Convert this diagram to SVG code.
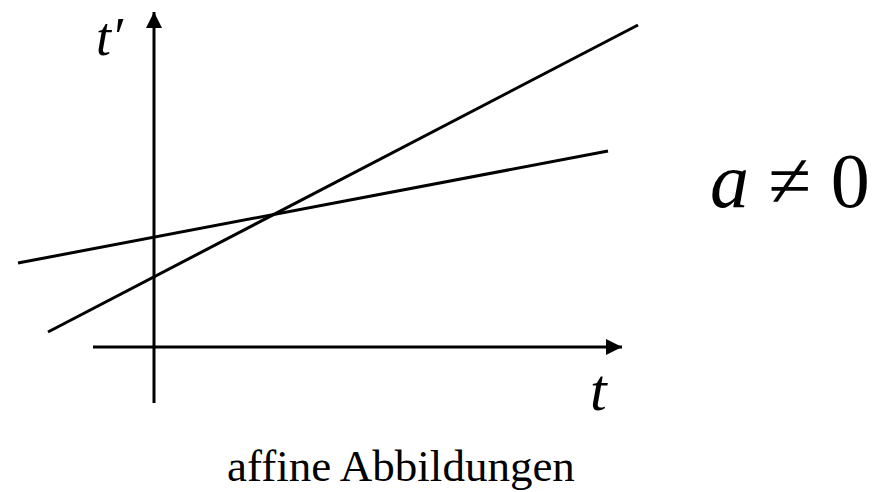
<svg xmlns="http://www.w3.org/2000/svg" width="878" height="492" viewBox="0 0 878 492">
<style>
.ln{stroke:#000;stroke-width:3;fill:none}
.tx{font-family:"Liberation Serif","Times New Roman",serif;fill:#000}
.it{font-style:italic}
</style>
<defs>
<marker id="ah" markerUnits="userSpaceOnUse" markerWidth="16" markerHeight="16" refX="16" refY="8" orient="auto">
<path d="M0,0 L16,8 L0,16 Z" fill="#000"/>
</marker>
</defs>
<rect width="878" height="492" fill="#fff"/>
<g id="connectors">
<line id="axis-t" class="ln" x1="93" y1="347" x2="622" y2="347" marker-end="url(#ah)"/>
<line id="axis-tprime" class="ln" x1="154" y1="403" x2="154" y2="12" marker-end="url(#ah)"/>
<line id="line-flat" class="ln" x1="18" y1="263" x2="608" y2="151"/>
<line id="line-steep" class="ln" x1="48" y1="332" x2="638" y2="25"/>
</g>
<g id="label-tprime"><text class="tx it" x="96" y="55" font-size="54">t′</text></g>
<g id="label-t"><text class="tx it" x="590" y="410" font-size="60">t</text></g>
<g id="label-a"><text class="tx" x="710" y="207" font-size="78"><tspan class="it">a</tspan> ≠ 0</text></g>
<g id="caption"><text class="tx" x="227" y="481" font-size="45">affine Abbildungen</text></g>
</svg>
